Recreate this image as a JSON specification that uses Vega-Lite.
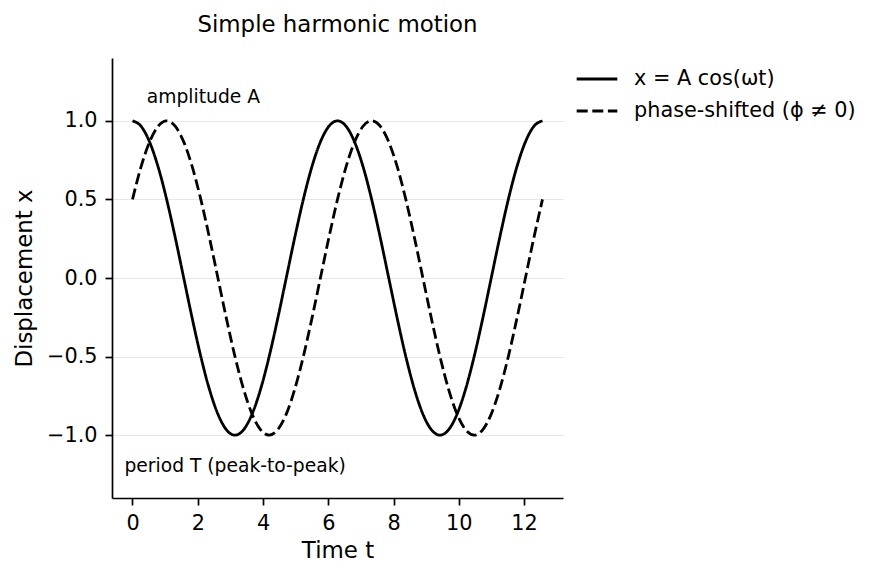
{
  "$schema": "https://vega.github.io/schema/vega-lite/v6.json",
  "description": "Simple harmonic motion: cos(t) and a phase-shifted copy.",
  "autosize": {"type": "none"},
  "padding": {"left": 112, "top": 58, "right": 316, "bottom": 82},
  "width": 451,
  "height": 440,
  "background": "white",
  "config": {
    "font": "DejaVu Sans",
    "view": {"stroke": null},
    "axis": {
      "labelFont": "DejaVu Sans",
      "titleFont": "DejaVu Sans",
      "labelFontSize": 20.8,
      "titleFontSize": 22.9,
      "titleFontWeight": "normal",
      "labelColor": "black",
      "titleColor": "black",
      "domainColor": "black",
      "domainWidth": 1.7,
      "tickColor": "black",
      "tickSize": 7,
      "tickWidth": 1.7,
      "labelPadding": 8
    },
    "legend": {
      "labelFont": "DejaVu Sans",
      "labelFontSize": 20.8,
      "labelColor": "black",
      "labelLimit": 400
    }
  },
  "title": {
    "text": "Simple harmonic motion",
    "fontSize": 22.9,
    "fontWeight": "normal",
    "font": "DejaVu Sans",
    "color": "black",
    "anchor": "middle",
    "offset": 20
  },
  "layer": [
    {
      "data": {
        "values": [
          {"t": 0, "x": 1, "s": "x = A cos(ωt)"},
          {"t": 0.2618, "x": 0.9659, "s": "x = A cos(ωt)"},
          {"t": 0.5236, "x": 0.866, "s": "x = A cos(ωt)"},
          {"t": 0.7854, "x": 0.7071, "s": "x = A cos(ωt)"},
          {"t": 1.0472, "x": 0.5, "s": "x = A cos(ωt)"},
          {"t": 1.309, "x": 0.2588, "s": "x = A cos(ωt)"},
          {"t": 1.5708, "x": 0, "s": "x = A cos(ωt)"},
          {"t": 1.8326, "x": -0.2588, "s": "x = A cos(ωt)"},
          {"t": 2.0944, "x": -0.5, "s": "x = A cos(ωt)"},
          {"t": 2.3562, "x": -0.7071, "s": "x = A cos(ωt)"},
          {"t": 2.618, "x": -0.866, "s": "x = A cos(ωt)"},
          {"t": 2.8798, "x": -0.9659, "s": "x = A cos(ωt)"},
          {"t": 3.1416, "x": -1, "s": "x = A cos(ωt)"},
          {"t": 3.4034, "x": -0.9659, "s": "x = A cos(ωt)"},
          {"t": 3.6652, "x": -0.866, "s": "x = A cos(ωt)"},
          {"t": 3.927, "x": -0.7071, "s": "x = A cos(ωt)"},
          {"t": 4.1888, "x": -0.5, "s": "x = A cos(ωt)"},
          {"t": 4.4506, "x": -0.2588, "s": "x = A cos(ωt)"},
          {"t": 4.7124, "x": 0, "s": "x = A cos(ωt)"},
          {"t": 4.9742, "x": 0.2588, "s": "x = A cos(ωt)"},
          {"t": 5.236, "x": 0.5, "s": "x = A cos(ωt)"},
          {"t": 5.4978, "x": 0.7071, "s": "x = A cos(ωt)"},
          {"t": 5.7596, "x": 0.866, "s": "x = A cos(ωt)"},
          {"t": 6.0214, "x": 0.9659, "s": "x = A cos(ωt)"},
          {"t": 6.2832, "x": 1, "s": "x = A cos(ωt)"},
          {"t": 6.545, "x": 0.9659, "s": "x = A cos(ωt)"},
          {"t": 6.8068, "x": 0.866, "s": "x = A cos(ωt)"},
          {"t": 7.0686, "x": 0.7071, "s": "x = A cos(ωt)"},
          {"t": 7.3304, "x": 0.5, "s": "x = A cos(ωt)"},
          {"t": 7.5922, "x": 0.2588, "s": "x = A cos(ωt)"},
          {"t": 7.854, "x": 0, "s": "x = A cos(ωt)"},
          {"t": 8.1158, "x": -0.2588, "s": "x = A cos(ωt)"},
          {"t": 8.3776, "x": -0.5, "s": "x = A cos(ωt)"},
          {"t": 8.6394, "x": -0.7071, "s": "x = A cos(ωt)"},
          {"t": 8.9012, "x": -0.866, "s": "x = A cos(ωt)"},
          {"t": 9.163, "x": -0.9659, "s": "x = A cos(ωt)"},
          {"t": 9.4248, "x": -1, "s": "x = A cos(ωt)"},
          {"t": 9.6866, "x": -0.9659, "s": "x = A cos(ωt)"},
          {"t": 9.9484, "x": -0.866, "s": "x = A cos(ωt)"},
          {"t": 10.2102, "x": -0.7071, "s": "x = A cos(ωt)"},
          {"t": 10.472, "x": -0.5, "s": "x = A cos(ωt)"},
          {"t": 10.7338, "x": -0.2588, "s": "x = A cos(ωt)"},
          {"t": 10.9956, "x": 0, "s": "x = A cos(ωt)"},
          {"t": 11.2574, "x": 0.2588, "s": "x = A cos(ωt)"},
          {"t": 11.5192, "x": 0.5, "s": "x = A cos(ωt)"},
          {"t": 11.781, "x": 0.7071, "s": "x = A cos(ωt)"},
          {"t": 12.0428, "x": 0.866, "s": "x = A cos(ωt)"},
          {"t": 12.3046, "x": 0.9659, "s": "x = A cos(ωt)"},
          {"t": 12.5664, "x": 1, "s": "x = A cos(ωt)"},
          {"t": 0, "x": 0.5, "s": "phase-shifted (ϕ ≠ 0)"},
          {"t": 0.2618, "x": 0.7071, "s": "phase-shifted (ϕ ≠ 0)"},
          {"t": 0.5236, "x": 0.866, "s": "phase-shifted (ϕ ≠ 0)"},
          {"t": 0.7854, "x": 0.9659, "s": "phase-shifted (ϕ ≠ 0)"},
          {"t": 1.0472, "x": 1, "s": "phase-shifted (ϕ ≠ 0)"},
          {"t": 1.309, "x": 0.9659, "s": "phase-shifted (ϕ ≠ 0)"},
          {"t": 1.5708, "x": 0.866, "s": "phase-shifted (ϕ ≠ 0)"},
          {"t": 1.8326, "x": 0.7071, "s": "phase-shifted (ϕ ≠ 0)"},
          {"t": 2.0944, "x": 0.5, "s": "phase-shifted (ϕ ≠ 0)"},
          {"t": 2.3562, "x": 0.2588, "s": "phase-shifted (ϕ ≠ 0)"},
          {"t": 2.618, "x": 0, "s": "phase-shifted (ϕ ≠ 0)"},
          {"t": 2.8798, "x": -0.2588, "s": "phase-shifted (ϕ ≠ 0)"},
          {"t": 3.1416, "x": -0.5, "s": "phase-shifted (ϕ ≠ 0)"},
          {"t": 3.4034, "x": -0.7071, "s": "phase-shifted (ϕ ≠ 0)"},
          {"t": 3.6652, "x": -0.866, "s": "phase-shifted (ϕ ≠ 0)"},
          {"t": 3.927, "x": -0.9659, "s": "phase-shifted (ϕ ≠ 0)"},
          {"t": 4.1888, "x": -1, "s": "phase-shifted (ϕ ≠ 0)"},
          {"t": 4.4506, "x": -0.9659, "s": "phase-shifted (ϕ ≠ 0)"},
          {"t": 4.7124, "x": -0.866, "s": "phase-shifted (ϕ ≠ 0)"},
          {"t": 4.9742, "x": -0.7071, "s": "phase-shifted (ϕ ≠ 0)"},
          {"t": 5.236, "x": -0.5, "s": "phase-shifted (ϕ ≠ 0)"},
          {"t": 5.4978, "x": -0.2588, "s": "phase-shifted (ϕ ≠ 0)"},
          {"t": 5.7596, "x": 0, "s": "phase-shifted (ϕ ≠ 0)"},
          {"t": 6.0214, "x": 0.2588, "s": "phase-shifted (ϕ ≠ 0)"},
          {"t": 6.2832, "x": 0.5, "s": "phase-shifted (ϕ ≠ 0)"},
          {"t": 6.545, "x": 0.7071, "s": "phase-shifted (ϕ ≠ 0)"},
          {"t": 6.8068, "x": 0.866, "s": "phase-shifted (ϕ ≠ 0)"},
          {"t": 7.0686, "x": 0.9659, "s": "phase-shifted (ϕ ≠ 0)"},
          {"t": 7.3304, "x": 1, "s": "phase-shifted (ϕ ≠ 0)"},
          {"t": 7.5922, "x": 0.9659, "s": "phase-shifted (ϕ ≠ 0)"},
          {"t": 7.854, "x": 0.866, "s": "phase-shifted (ϕ ≠ 0)"},
          {"t": 8.1158, "x": 0.7071, "s": "phase-shifted (ϕ ≠ 0)"},
          {"t": 8.3776, "x": 0.5, "s": "phase-shifted (ϕ ≠ 0)"},
          {"t": 8.6394, "x": 0.2588, "s": "phase-shifted (ϕ ≠ 0)"},
          {"t": 8.9012, "x": 0, "s": "phase-shifted (ϕ ≠ 0)"},
          {"t": 9.163, "x": -0.2588, "s": "phase-shifted (ϕ ≠ 0)"},
          {"t": 9.4248, "x": -0.5, "s": "phase-shifted (ϕ ≠ 0)"},
          {"t": 9.6866, "x": -0.7071, "s": "phase-shifted (ϕ ≠ 0)"},
          {"t": 9.9484, "x": -0.866, "s": "phase-shifted (ϕ ≠ 0)"},
          {"t": 10.2102, "x": -0.9659, "s": "phase-shifted (ϕ ≠ 0)"},
          {"t": 10.472, "x": -1, "s": "phase-shifted (ϕ ≠ 0)"},
          {"t": 10.7338, "x": -0.9659, "s": "phase-shifted (ϕ ≠ 0)"},
          {"t": 10.9956, "x": -0.866, "s": "phase-shifted (ϕ ≠ 0)"},
          {"t": 11.2574, "x": -0.7071, "s": "phase-shifted (ϕ ≠ 0)"},
          {"t": 11.5192, "x": -0.5, "s": "phase-shifted (ϕ ≠ 0)"},
          {"t": 11.781, "x": -0.2588, "s": "phase-shifted (ϕ ≠ 0)"},
          {"t": 12.0428, "x": 0, "s": "phase-shifted (ϕ ≠ 0)"},
          {"t": 12.3046, "x": 0.2588, "s": "phase-shifted (ϕ ≠ 0)"},
          {"t": 12.5664, "x": 0.5, "s": "phase-shifted (ϕ ≠ 0)"}
        ]
      },
      "mark": {"type": "line", "interpolate": "monotone", "color": "black", "strokeWidth": 2.8},
      "encoding": {
        "x": {
          "field": "t",
          "type": "quantitative",
          "title": "Time t",
          "scale": {"domain": [-0.628, 13.195], "nice": false, "zero": false},
          "axis": {"values": [0, 2, 4, 6, 8, 10, 12], "grid": false, "format": "d", "titlePadding": 7}
        },
        "y": {
          "field": "x",
          "type": "quantitative",
          "title": "Displacement x",
          "scale": {"domain": [-1.4, 1.4], "nice": false, "zero": false},
          "axis": {
            "values": [-1, -0.5, 0, 0.5, 1],
            "format": ".1f",
            "grid": true,
            "gridColor": "#e6e6e6",
            "gridWidth": 1.2,
            "titlePadding": 10
          }
        },
        "strokeDash": {
          "field": "s",
          "type": "nominal",
          "scale": {
            "domain": ["x = A cos(ωt)", "phase-shifted (ϕ ≠ 0)"],
            "range": [[1, 0], [11, 4.6]]
          },
          "legend": {
            "title": null,
            "orient": "none",
            "legendX": 463,
            "legendY": -1,
            "symbolType": "stroke",
            "symbolSize": 1650,
            "symbolStrokeWidth": 3,
            "symbolStrokeColor": "black",
            "rowPadding": -6,
            "labelOffset": 15
          }
        },
        "detail": {"field": "s"}
      }
    },
    {
      "data": {
        "values": [
          {"t": 0.44, "x": 1.112, "label": "amplitude A"},
          {"t": -0.245, "x": -1.232, "label": "period T (peak-to-peak)"}
        ]
      },
      "mark": {"type": "text", "align": "left", "baseline": "alphabetic", "fontSize": 18.7, "color": "black", "font": "DejaVu Sans"},
      "encoding": {
        "x": {"field": "t", "type": "quantitative"},
        "y": {"field": "x", "type": "quantitative"},
        "text": {"field": "label"}
      }
    }
  ]
}
